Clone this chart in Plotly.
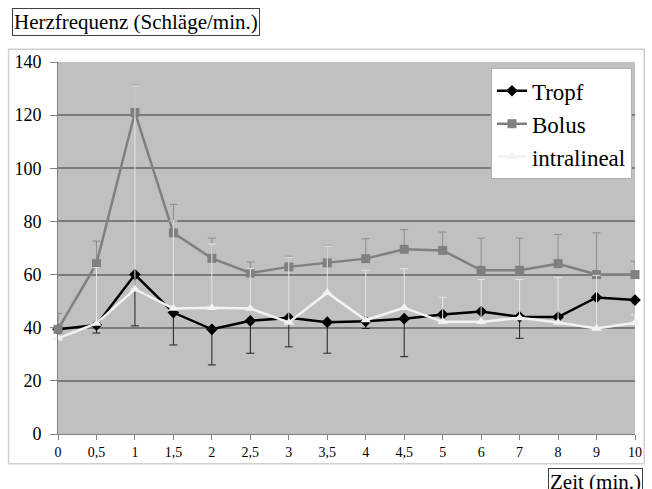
import plotly.graph_objects as go

categories = ["0", "0,5", "1", "1,5", "2", "2,5", "3", "3,5", "4", "4,5", "5", "6", "7", "8", "9", "10"]

tropf = [39.4, 41.0, 60.0, 45.7, 39.4, 42.6, 43.7, 42.1, 42.4, 43.4, 45.0, 46.1, 44.1, 44.0, 51.4, 50.4]
tropf_minus = [0, 3.0, 19.3, 12.2, 13.4, 12.2, 10.9, 11.7, 2.7, 14.3, 0, 0, 8.1, 0, 0, 0]

bolus = [39.4, 64.1, 121.0, 75.7, 66.1, 60.6, 62.9, 64.4, 66.0, 69.5, 69.1, 61.6, 61.6, 64.1, 60.0, 60.0]
bolus_plus = [6.0, 8.5, 10.3, 10.7, 7.6, 4.1, 4.0, 6.6, 7.5, 7.4, 6.9, 12.1, 12.1, 11.0, 15.7, 5.0]

intralineal = [36.0, 41.6, 54.5, 47.2, 47.5, 47.2, 42.0, 53.2, 42.9, 47.5, 42.2, 42.2, 43.7, 42.0, 39.7, 41.9]
intralineal_plus = [0, 21.0, 76.5, 33.0, 24.0, 15.0, 24.5, 17.5, 18.7, 14.7, 9.2, 15.9, 14.4, 16.9, 20.0, 3.0]

W, H = 652, 489
L, R, T, B = 58, 641.7, 61.7, 434.3
PW, PH = R - L, B - T


def px(x):
    return (x - L) / PW


def py(y):
    return (B - y) / PH


SERIF = "Liberation Serif, Times New Roman, serif"

fig = go.Figure()

fig.add_trace(go.Scatter(
    x=categories, y=tropf, name="Tropf", mode="lines+markers",
    line=dict(color="#000000", width=2.5),
    marker=dict(symbol="diamond", size=9, color="#000000"),
    error_y=dict(type="data", symmetric=False, array=[0] * len(tropf), arrayminus=tropf_minus,
                 color="#202020", thickness=1, width=4),
    cliponaxis=False,
))
fig.add_trace(go.Scatter(
    x=categories, y=bolus, name="Bolus", mode="lines+markers",
    line=dict(color="#808080", width=2.5),
    marker=dict(symbol="square", size=9, color="#808080"),
    error_y=dict(type="data", symmetric=False, array=bolus_plus, arrayminus=[0] * len(bolus),
                 color="#8c8c8c", thickness=1, width=4),
    cliponaxis=False,
))
fig.add_trace(go.Scatter(
    x=categories, y=intralineal, name="intralineal", mode="lines+markers",
    line=dict(color="#f2f2f2", width=2.5),
    marker=dict(symbol="triangle-up", size=9, color="#f2f2f2"),
    error_y=dict(type="data", symmetric=False, array=intralineal_plus, arrayminus=[0] * len(intralineal),
                 color="#e6e6e6", thickness=1, width=4),
    cliponaxis=False,
))

fig.update_layout(
    width=W, height=H,
    margin=dict(l=L, r=W - R, t=T, b=H - B, pad=0),
    paper_bgcolor="#ffffff",
    plot_bgcolor="#c0c0c0",
    font=dict(family=SERIF, color="#000000"),
    showlegend=True,
    legend=dict(
        x=px(496), y=py(68), xanchor="left", yanchor="top",
        bgcolor="#ffffff", bordercolor="#b0b0b0", borderwidth=1,
        font=dict(family=SERIF, size=23, color="#000000"),
        itemwidth=30, tracegroupgap=0,
    ),
    xaxis=dict(
        type="category", categoryorder="array", categoryarray=categories,
        range=[0, len(categories) - 1],
        showgrid=False, zeroline=False,
        showline=True, linecolor="#808080", linewidth=1,
        ticks="outside", ticklen=5, tickcolor="#808080",
        tickfont=dict(family=SERIF, size=14, color="#000000"),
    ),
    yaxis=dict(
        range=[0, 140], dtick=20, tick0=0,
        showgrid=True, gridcolor="#7a7a7a", gridwidth=1.5,
        zeroline=False,
        showline=True, linecolor="#808080", linewidth=1,
        ticks="outside", ticklen=7, tickcolor="#808080",
        ticklabelstandoff=5,
        tickfont=dict(family=SERIF, size=18, color="#000000"),
    ),
    shapes=[
        dict(type="rect", xref="paper", yref="paper",
             x0=px(8), x1=px(651), y0=py(464), y1=py(49),
             line=dict(color="#d0d0d0", width=1.5), fillcolor="rgba(0,0,0,0)", layer="below"),
    ],
    annotations=[
        dict(text="Herzfrequenz (Schläge/min.)", xref="paper", yref="paper",
             x=px(11), y=py(8), xanchor="left", yanchor="top", showarrow=False,
             font=dict(family=SERIF, size=21, color="#000000"),
             bordercolor="#404040", borderwidth=1, borderpad=1, bgcolor="#ffffff"),
        dict(text="Zeit (min.)", xref="paper", yref="paper",
             x=px(650), y=py(468), xanchor="right", yanchor="top", showarrow=False,
             font=dict(family=SERIF, size=21, color="#000000"),
             bordercolor="#404040", borderwidth=1, borderpad=1, bgcolor="#ffffff"),
    ],
)

fig.write_html("out.html")
